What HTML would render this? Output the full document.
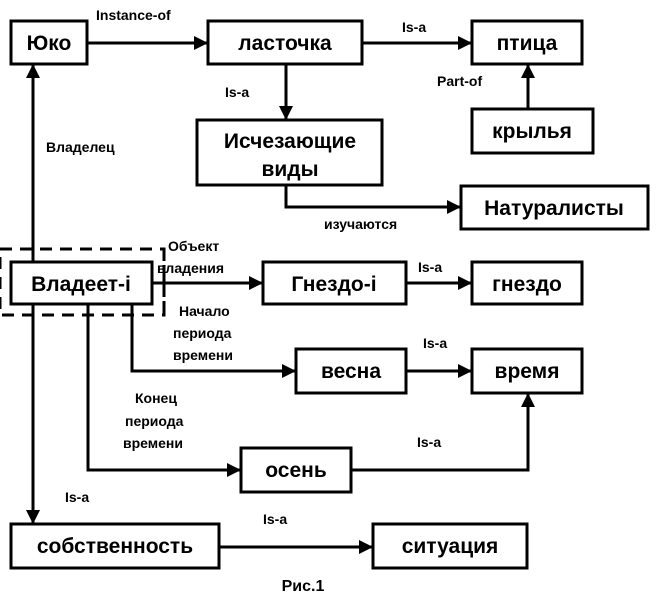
<!DOCTYPE html>
<html><head><meta charset="utf-8"><style>
html,body{margin:0;padding:0;background:#fff;}
svg{display:block;}
text{font-family:"Liberation Sans",Arial,sans-serif;font-weight:bold;fill:#000;}
.b{font-size:21px;}
.l{font-size:14px;}
rect{fill:#fff;stroke:#000;stroke-width:3;}
line,polyline{stroke:#000;stroke-width:3;fill:none;}
</style></head><body>
<svg width="656" height="611" viewBox="0 0 656 611" xmlns="http://www.w3.org/2000/svg">
<defs><marker id="a" markerWidth="10" markerHeight="10" refX="9" refY="5" orient="auto" markerUnits="userSpaceOnUse"><path d="M0,0 L10,5 L0,10 z" fill="#000"/></marker>
<marker id="A" markerWidth="14" markerHeight="14" refX="13" refY="7" orient="auto" markerUnits="userSpaceOnUse"><path d="M0,0 L14,7 L0,14 z" fill="#000"/></marker></defs>

<!-- dashed region -->
<rect x="0" y="249" width="164" height="66" style="fill:none;stroke-dasharray:12,8" />
<line x1="164" y1="249" x2="164" y2="315" style="stroke-dasharray:12,14"/>

<!-- connectors -->
<line x1="87" y1="43" x2="207" y2="43" marker-end="url(#A)"/>
<line x1="362" y1="43" x2="471" y2="43" marker-end="url(#A)"/>
<line x1="286" y1="64" x2="286" y2="119" marker-end="url(#A)"/>
<line x1="528" y1="108" x2="528" y2="65" marker-end="url(#A)"/>
<polyline points="286,185 286,207 460,207" marker-end="url(#A)"/>
<line x1="33" y1="262" x2="33" y2="65" marker-end="url(#A)"/>
<line x1="152" y1="283" x2="262" y2="283" marker-end="url(#A)"/>
<line x1="406" y1="283" x2="471" y2="283" marker-end="url(#A)"/>
<line x1="33" y1="304" x2="33" y2="523" marker-end="url(#A)"/>
<polyline points="88,304 88,470 240,470" marker-end="url(#A)"/>
<polyline points="132,304 132,371 295,371" marker-end="url(#A)"/>
<line x1="406" y1="371" x2="471" y2="371" marker-end="url(#A)"/>
<polyline points="351,470 528,470 528,394" marker-end="url(#A)"/>
<line x1="219" y1="547" x2="372" y2="547" marker-end="url(#A)"/>

<!-- boxes -->
<rect x="11" y="21" width="76" height="43"/><text class="b" x="49" y="50" text-anchor="middle">Юко</text>
<rect x="208" y="21" width="154" height="43"/><text class="b" x="285" y="50" text-anchor="middle">ласточка</text>
<rect x="472" y="21" width="110" height="43"/><text class="b" x="527" y="50" text-anchor="middle">птица</text>
<rect x="472" y="109" width="121" height="44"/><text class="b" x="532" y="138" text-anchor="middle">крылья</text>
<rect x="197" y="120" width="185" height="65"/><text class="b" x="290" y="148" text-anchor="middle">Исчезающие</text><text class="b" x="290" y="176" text-anchor="middle">виды</text>
<rect x="461" y="186" width="187" height="43"/><text class="b" x="554" y="215" text-anchor="middle">Натуралисты</text>
<rect x="11" y="262" width="141" height="42"/><text class="b" x="81" y="291" text-anchor="middle">Владеет-i</text>
<rect x="263" y="262" width="143" height="42"/><text class="b" x="334" y="291" text-anchor="middle">Гнездо-i</text>
<rect x="472" y="262" width="110" height="42"/><text class="b" x="527" y="291" text-anchor="middle">гнездо</text>
<rect x="296" y="349" width="110" height="44"/><text class="b" x="351" y="378" text-anchor="middle">весна</text>
<rect x="472" y="349" width="110" height="44"/><text class="b" x="527" y="378" text-anchor="middle">время</text>
<rect x="241" y="448" width="110" height="44"/><text class="b" x="296" y="477" text-anchor="middle">осень</text>
<rect x="11" y="524" width="208" height="44"/><text class="b" x="115" y="553" text-anchor="middle">собственность</text>
<rect x="373" y="524" width="154" height="44"/><text class="b" x="450" y="553" text-anchor="middle">ситуация</text>

<!-- labels -->
<text class="l" x="96" y="20">Instance-of</text>
<text class="l" x="402" y="32">Is-a</text>
<text class="l" x="225" y="97">Is-a</text>
<text class="l" x="437" y="86">Part-of</text>
<text class="l" x="46" y="152">Владелец</text>
<text class="l" x="324" y="229">изучаются</text>
<text class="l" x="168" y="251">Объект</text>
<text class="l" x="157" y="273">владения</text>
<text class="l" x="418" y="272">Is-a</text>
<text class="l" x="179" y="316">Начало</text>
<text class="l" x="173" y="338">периода</text>
<text class="l" x="173" y="360">времени</text>
<text class="l" x="423" y="348">Is-a</text>
<text class="l" x="135" y="403">Конец</text>
<text class="l" x="125" y="426">периода</text>
<text class="l" x="123" y="448">времени</text>
<text class="l" x="417" y="447">Is-a</text>
<text class="l" x="65" y="502">Is-a</text>
<text class="l" x="263" y="524">Is-a</text>
<text class="l" x="303" y="591" text-anchor="middle" style="font-size:16px">Рис.1</text>
</svg>
</body></html>
